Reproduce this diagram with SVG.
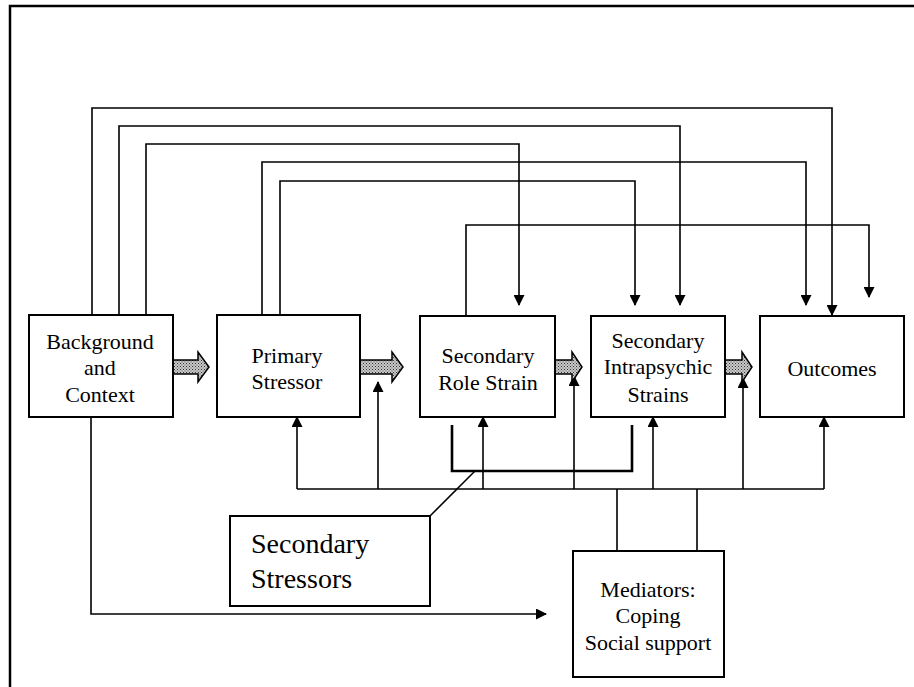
<svg xmlns="http://www.w3.org/2000/svg" width="914" height="687" viewBox="0 0 914 687">
<style>
.box{fill:#fff;stroke:#000;stroke-width:2}
.t{font-family:"Liberation Serif","Times New Roman",serif;font-size:22px;fill:#000;text-anchor:middle}
.tl{font-family:"Liberation Serif","Times New Roman",serif;font-size:28px;fill:#000}
.c{fill:none;stroke:#000;stroke-width:1.6}
.ca{fill:none;stroke:#000;stroke-width:1.6;marker-end:url(#ah)}
.thick{fill:none;stroke:#000;stroke-width:2.6}
.fat{fill:url(#dots);stroke:#000;stroke-width:1.5}
</style>
<defs>
<marker id="ah" markerUnits="userSpaceOnUse" markerWidth="11" markerHeight="11" refX="10" refY="5.5" orient="auto" viewBox="0 0 11 11">
<path d="M0,0 L11,5.5 L0,11 z" fill="#000"/>
</marker>
<pattern id="dots" width="3" height="3" patternUnits="userSpaceOnUse">
<rect width="3" height="3" fill="#c8c8c8"/>
<rect width="1" height="1" fill="#333"/>
<rect x="1.5" y="1.5" width="1" height="1" fill="#555"/>
</pattern>
</defs>
<rect width="914" height="687" fill="#fff"/>
<path d="M10,687 V6 H914" fill="none" stroke="#000" stroke-width="2.5"/>

<g id="connectors">
<path class="ca" d="M92,315 V108 H832 V315"/>
<path class="ca" d="M119,315 V126 H680 V305"/>
<path class="ca" d="M146,315 V144 H519 V305"/>
<path class="ca" d="M262,315 V162 H806 V305"/>
<path class="ca" d="M280,315 V181 H635 V305"/>
<path class="ca" d="M466,316 V225 H869 V297"/>
<path class="c" d="M297,489 H824"/>
<path class="ca" d="M297,489 V417"/>
<path class="ca" d="M378,489 V382"/>
<path class="ca" d="M483,489 V417"/>
<path class="ca" d="M574,489 V376"/>
<path class="ca" d="M653,489 V417"/>
<path class="ca" d="M743,489 V378"/>
<path class="ca" d="M824,489 V417"/>
<path class="c" d="M617,489 V551 M697,489 V551"/>
<path class="thick" d="M452,425 V471 H632 V425"/>
<path class="c" d="M430,516 L475,471"/>
<path class="ca" d="M91,417 V614 H546"/>
<path class="fat" d="M173,360 H198 V352 L209,367 L198,382 V374 H173 z"/>
<path class="fat" d="M360,360 H392 V352 L403,367 L392,382 V374 H360 z"/>
<path class="fat" d="M555,360 H572 V352 L582,367 L572,382 V374 H555 z"/>
<path class="fat" d="M725,360 H742 V352 L752,367 L742,382 V374 H725 z"/>
</g>

<g id="background">
<rect class="box" x="29" y="315" width="144" height="102"/>
<text class="t" x="100" y="349">Background</text>
<text class="t" x="100" y="375">and</text>
<text class="t" x="100" y="402">Context</text>
</g>
<g id="primary">
<rect class="box" x="217" y="315" width="143" height="102"/>
<text class="t" x="287" y="363">Primary</text>
<text class="t" x="287" y="389">Stressor</text>
</g>
<g id="rolestrain">
<rect class="box" x="420" y="316" width="135" height="101"/>
<text class="t" x="488" y="363">Secondary</text>
<text class="t" x="488" y="390">Role Strain</text>
</g>
<g id="intrapsychic">
<rect class="box" x="591" y="316" width="134" height="101"/>
<text class="t" x="658" y="348">Secondary</text>
<text class="t" x="658" y="374">Intrapsychic</text>
<text class="t" x="658" y="402">Strains</text>
</g>
<g id="outcomes">
<rect class="box" x="760" y="316" width="144" height="101"/>
<text class="t" x="832" y="376">Outcomes</text>
</g>
<g id="secondarystressors">
<rect class="box" x="230" y="516" width="200" height="90"/>
<text class="tl" x="251" y="553">Secondary</text>
<text class="tl" x="251" y="588">Stressors</text>
</g>
<g id="mediators">
<rect class="box" x="573" y="551" width="151" height="126"/>
<text class="t" x="648" y="597">Mediators:</text>
<text class="t" x="648" y="623">Coping</text>
<text class="t" x="648" y="650">Social support</text>
</g>
</svg>
